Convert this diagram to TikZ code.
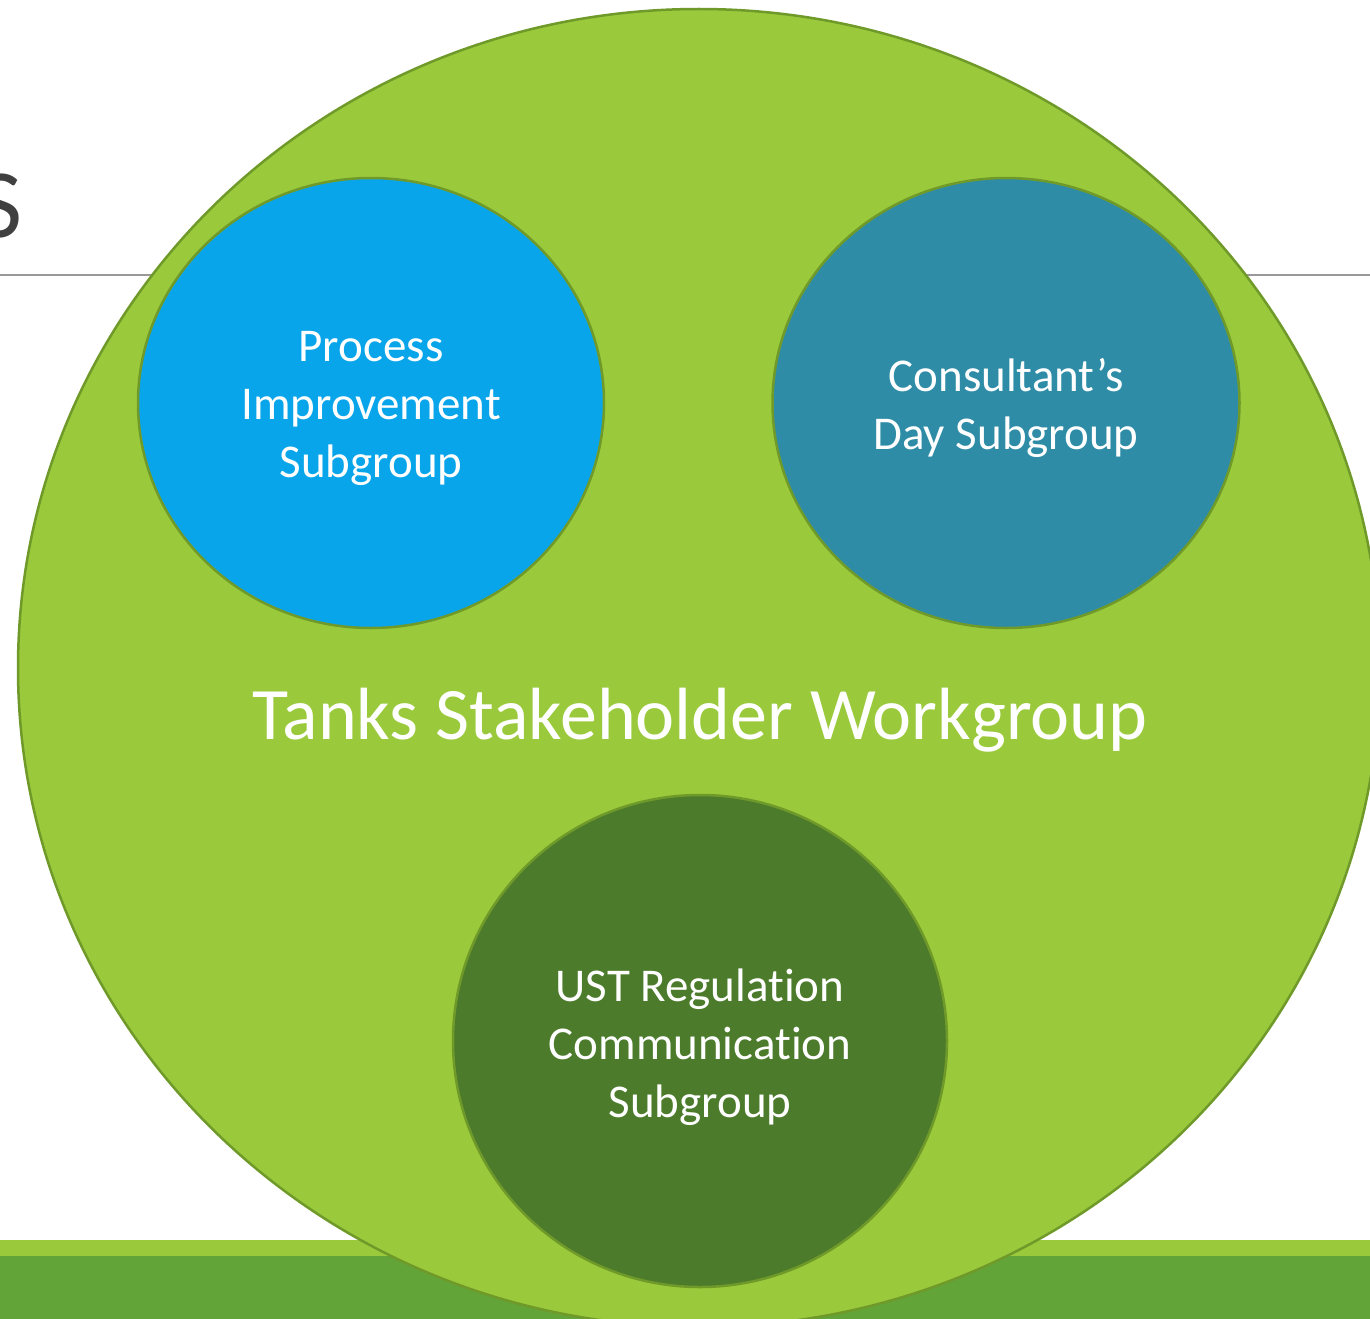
\documentclass[tikz,border=0pt]{standalone}
\usepackage{fontspec}
\setmainfont{Carlito}[Ligatures=NoCommon]
\usetikzlibrary{shapes.geometric}
\definecolor{lgreen}{HTML}{9ACA3C}
\definecolor{dgreenband}{HTML}{62A438}
\definecolor{edge}{HTML}{6F9A2A}
\definecolor{pblue}{HTML}{08A5EA}
\definecolor{pteal}{HTML}{2E8CA6}
\definecolor{pdgreen}{HTML}{4B7B2B}
\definecolor{titlegray}{HTML}{404040}
\tikzset{
  sub/.style={ellipse, draw=edge, line width=2.5pt, inner sep=0pt},
  subtext/.style={text=white, align=center, inner sep=0pt, font=\fontsize{47}{58}\selectfont},
}
\begin{document}
\begin{tikzpicture}[x=1pt,y=-1pt]
\useasboundingbox (0,0) rectangle (1370,1319);
\clip (0,0) rectangle (1370,1319);
\fill[white] (0,0) rectangle (1370,1319);
% partial title letter
\node[anchor=east, text=titlegray, inner sep=0pt, font=\fontsize{98}{110}\selectfont] (ttl) at (23,206) {S};
% rule
\coordinate (r1) at (0,275);
\coordinate (r2) at (1370,275);
\draw[color=black!40, line width=2pt] (r1) -- (r2);
% bottom bands
\fill[lgreen] (0,1240) rectangle (1370,1256);
\fill[dgreenband] (0,1256) rectangle (1370,1319);
% big ellipse
\node[ellipse, draw=edge, fill=lgreen, line width=2.5pt, minimum width=1362pt, minimum height=1318pt, inner sep=0pt] (big) at (699,668) {};
\node[text=white, font=\fontsize{74}{88}\selectfont, inner sep=0pt] (title) at (700,720) {Tanks Stakeholder Workgroup};
% subgroups
\node[sub, fill=pblue, minimum width=466pt, minimum height=450pt] (pi) at (371,403) {};
\node[sub, fill=pteal, minimum width=467pt, minimum height=450pt] (cd) at (1006,403) {};
\node[sub, fill=pdgreen, minimum width=494pt, minimum height=492pt] (ust) at (700,1041) {};
\node[subtext] (pitext) at ([yshift=-5pt]pi.center) {Process\\Improvement\\Subgroup};
\node[subtext] (cdtext) at ([yshift=-5pt]cd.center) {Consultant’s\\Day Subgroup};
\node[subtext] (usttext) at ([yshift=-6pt]ust.center) {UST Regulation\\Communication\\Subgroup};
\end{tikzpicture}
\end{document}
